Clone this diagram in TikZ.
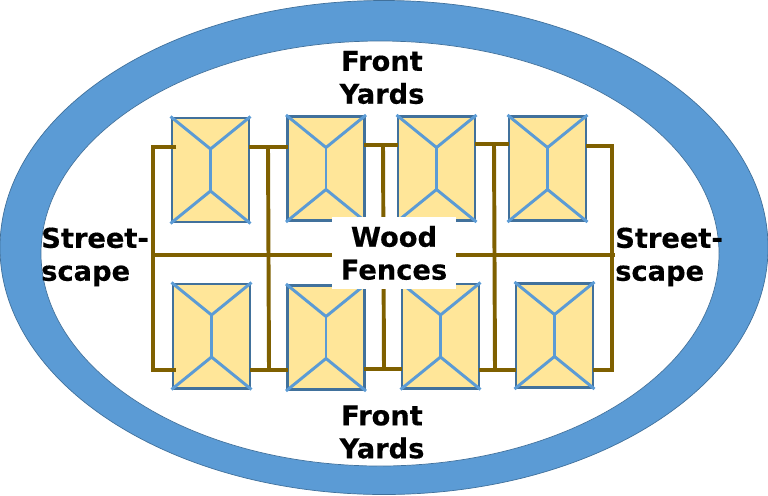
\documentclass[tikz,border=0pt]{standalone}
\usepackage{fontspec}
\setmainfont[BoldFeatures={FakeBold=0.4}]{DejaVu Sans}
\usetikzlibrary{calc}
\definecolor{ringblue}{HTML}{5B9BD5}
\definecolor{ringedge}{HTML}{41719C}
\definecolor{roofyellow}{HTML}{FFE699}
\definecolor{fencebrown}{HTML}{7F6000}
\tikzset{
  housebox/.style={draw=ringedge, fill=roofyellow, line width=2.1pt, minimum width=1.925cm, minimum height=2.6cm, inner sep=0pt},
  ridge/.style={draw=ringblue, line width=2.1pt},
  fence/.style={draw=fencebrown, line width=2.8pt},
  label/.style={font=\bfseries\fontsize{19.4}{23.4}\selectfont, align=center, inner sep=0pt},
}
\begin{document}
\begin{tikzpicture}[x=0.025cm,y=-0.025cm]
    \useasboundingbox (0,0) rectangle (768,495);
    % ring
    \fill[ringblue, draw=ringedge, line width=0.5pt] (384,247.5) ellipse [x radius=384, y radius=247];
    \fill[white, draw=ringedge, line width=0.5pt] (380,253.5) ellipse [x radius=339, y radius=212.5];
    % houses
    \foreach \n/\x/\y in {a/210.5/170, b/326/168.5, c/436.5/168.5, d/547.5/168.5, e/211.5/336, f/326/337.5, g/440.5/336, h/554.5/335.5} {
      \node[housebox] (\n) at (\x,\y) {};
      \coordinate (\n1) at (\x,\y-21);
      \coordinate (\n2) at (\x,\y+21);
      \draw[ridge] (\n.north west) -- (\n1) -- (\n.north east);
      \draw[ridge] (\n.south west) -- (\n2) -- (\n.south east);
      \draw[ridge] (\n1) -- (\n2);
    }
    % fences, top row
    \coordinate (t0) at (153,147);
    \coordinate (t1) at (176,147);
    \coordinate (t2) at (249,147);
    \coordinate (t3) at (288,147);
    \coordinate (t4) at (364,145);
    \coordinate (t5) at (398,145);
    \coordinate (t6) at (475,144);
    \coordinate (t7) at (509,144);
    \coordinate (t8) at (586,146);
    \coordinate (t9) at (612,146);
    % fences, bottom row
    \coordinate (u0) at (153,370);
    \coordinate (u1) at (176,370);
    \coordinate (u2) at (250,370);
    \coordinate (u3) at (288,370);
    \coordinate (u4) at (364,369);
    \coordinate (u5) at (402,369);
    \coordinate (u6) at (479,370);
    \coordinate (u7) at (516,370);
    \coordinate (u8) at (593,370);
    \coordinate (u9) at (612,370);
    % cross fence
    \coordinate (m0) at (152,255);
    \coordinate (m1) at (615,255);
    \coordinate (v1t) at (268,147);
    \coordinate (v1b) at (269,370);
    \coordinate (v2t) at (383,145);
    \coordinate (v2b) at (384,369);
    \coordinate (v3t) at (494,144);
    \coordinate (v3b) at (495,370);
    \draw[fence] (t1) -- (t0) -- (u0) -- (u1);
    \draw[fence] (t8) -- (t9) -- (u9) -- (u8);
    \foreach \p/\q in {t2/t3,t4/t5,t6/t7,u2/u3,u4/u5,u6/u7,v1t/v1b,v2t/v2b,v3t/v3b,m0/m1} {
      \draw[fence] (\p) -- (\q);
    }
    % labels
    \node[label] (fronttop) at (382,77.5) {Front\\Yards};
    \node[label] (frontbot) at (382,432) {Front\\Yards};
    \node[label, align=left] (streetl) at (95,257) {Street-\\scape};
    \node[label, align=left] (streetr) at (669,257) {Street-\\scape};
    \node[label, fill=white, minimum width=3.1cm, minimum height=1.8cm] (wood) at (394,253) {Wood\\Fences};
  \end{tikzpicture}
\end{document}
